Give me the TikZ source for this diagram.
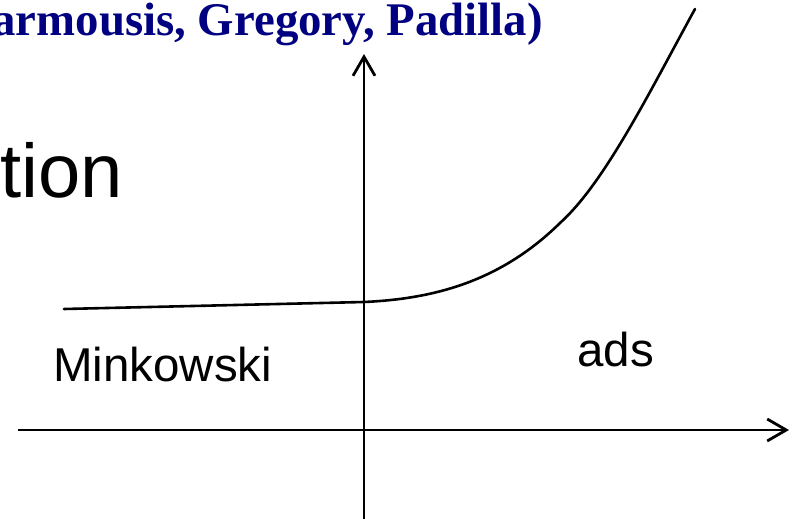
\documentclass[tikz,border=0pt]{standalone}
\usepackage{fontspec}
\setmainfont{Liberation Sans}
\newfontfamily\titlefont{Liberation Serif}
\usetikzlibrary{arrows.meta}
\definecolor{titleblue}{RGB}{0,0,128}
\tikzset{
  axis/.style={line width=2.8pt, -{Straight Barb[length=19pt,width=22pt,line width=2.8pt]}},
  curveline/.style={line width=2.6pt, line cap=round, line join=round},
  bigtext/.style={inner sep=0pt, anchor=base east, font=\fontsize{76}{80}\selectfont},
  labeltext/.style={inner sep=0pt, anchor=base west, font=\fontsize{47.5}{50}\selectfont},
  titletext/.style={inner sep=0pt, anchor=base east, text=titleblue, font=\titlefont\bfseries\fontsize{46.8}{50}\selectfont}
}
\begin{document}
\begin{tikzpicture}[x=1pt,y=-1pt]
\useasboundingbox (0,0) rectangle (796,519);
\clip (0,0) rectangle (796,519);
\fill[white] (0,0) rectangle (796,519);
% texts
\node[titletext] (title) at (543,36) {armousis, Gregory, Padilla)};
\node[bigtext] (tion) at (123,197) {tion};
\node[labeltext] (mink) at (53,381) {Minkowski};
\node[labeltext] (ads) at (577,366) {ads};
% axes
\coordinate (xs) at (18,430);
\coordinate (xe) at (789,430);
\coordinate (ys) at (364,530);
\coordinate (ye) at (364,54);
\draw[axis] (xs) -- (xe);
\draw[axis] (ys) -- (ye);
% curve
\coordinate (c0) at (64,309);
\coordinate (c1) at (364,302);
\coordinate (c2) at (560,223);
\coordinate (c3) at (695,9);
\draw[curveline] (c0) -- (c1)
  .. controls (429,299) and (498,284) .. (c2)
  .. controls (605,182.5) and (650,91) .. (c3);
\end{tikzpicture}
\end{document}
